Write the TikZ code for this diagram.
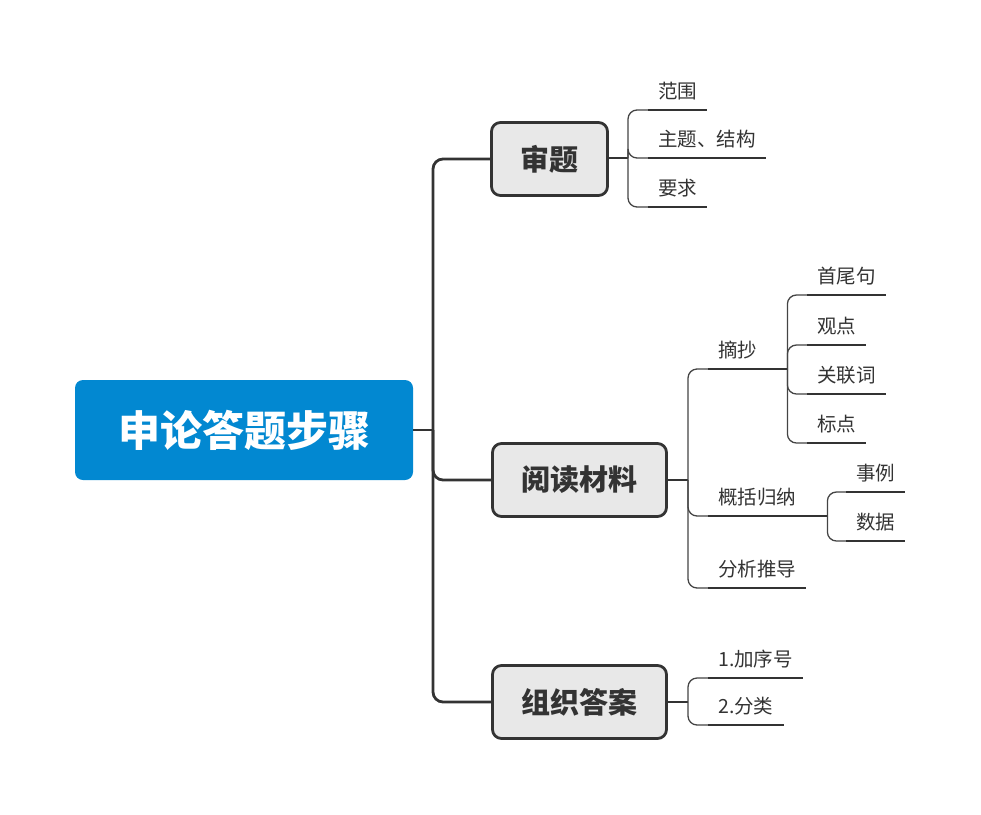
\documentclass[tikz,border=0pt]{standalone}
\usepackage{fontspec}
\newfontfamily\cjk{Noto Sans CJK SC}
\definecolor{rootblue}{HTML}{0288D1}
\definecolor{boxgray}{HTML}{E8E8E8}
\definecolor{ink}{HTML}{333333}
\definecolor{bracketgray}{HTML}{444444}
\tikzset{
  rootbox/.style={rectangle, rounded corners=8pt, fill=rootblue, text=white,
    minimum width=338pt, minimum height=100pt, inner sep=0pt,
    font=\cjk\bfseries\fontsize{42}{50}\selectfont},
  topicbox/.style={rectangle, rounded corners=9pt, draw=ink, line width=2.8pt,
    fill=boxgray, text=ink, minimum height=73pt, inner xsep=29pt,
    font=\cjk\bfseries\fontsize{29}{34}\selectfont},
  leaf/.style={anchor=south west, inner xsep=10pt, inner ysep=0pt,
    text height=16pt, text depth=11pt, text=ink,
    font=\cjk\fontsize{19.5}{24}\selectfont},
  leafw/.style={leaf, text width=#1, align=left},
  trunk/.style={draw=ink, line width=2.8pt, rounded corners=10pt},
  stub/.style={draw=ink, line width=1.6pt},
  bracket/.style={draw=bracketgray, line width=1.3pt, rounded corners=9pt},
  uline/.style={draw=ink, line width=2pt},
}
\begin{document}
\begin{tikzpicture}[x=1pt,y=-1pt]
\useasboundingbox (0,0) rectangle (981,814);

% root and main topics
\node[rootbox] (root) at (244,430) {申论答题步骤};
\node[topicbox] (shenti) at (549.5,159) {审题};
\node[topicbox] (yuedu) at (579.5,480) {阅读材料};
\node[topicbox] (zuzhi) at (579.5,702) {组织答案};

\coordinate (hub) at (433,430);
\draw[trunk] (root.east) -- (hub);
\draw[trunk] (hub) |- (shenti.west);
\draw[trunk] (hub) |- (yuedu.west);
\draw[trunk] (hub) |- (zuzhi.west);

% leaves of 审题
\node[leaf] (fanwei) at (648,110) {范围};
\node[leaf] (zhuti) at (648,158) {主题、结构};
\node[leaf] (yaoqiu) at (648,207) {要求};
\coordinate (sj) at (628,158);
\draw[stub] (shenti.east |- sj) -- (sj);
\foreach \c in {fanwei,zhuti,yaoqiu}
  \draw[bracket] (sj) |- (\c.south west);

% leaves of 阅读材料
\node[leafw=59pt] (zhaichao) at (708,369) {摘抄};
\node[leafw=99pt] (gaikuo) at (708,516) {概括归纳};
\node[leafw=78pt] (fenxi) at (708,588) {分析推导};
\coordinate (yj) at (688,480);
\draw[stub] (yuedu.east |- yj) -- (yj);
\foreach \c in {zhaichao,gaikuo,fenxi}
  \draw[bracket] (yj) |- (\c.south west);

% leaves of 摘抄
\node[leaf] (shouwei) at (807,295) {首尾句};
\node[leaf] (guandian) at (807,345) {观点};
\node[leaf] (guanlian) at (807,394) {关联词};
\node[leaf] (biaodian) at (807,443) {标点};
\foreach \c in {shouwei,guandian,guanlian,biaodian}
  \draw[bracket] (zhaichao.south east) |- (\c.south west);

% leaves of 概括归纳
\node[leaf] (shili) at (846,492) {事例};
\node[leaf] (shuju) at (846,541) {数据};
\foreach \c in {shili,shuju}
  \draw[bracket] (gaikuo.south east) |- (\c.south west);

% leaves of 组织答案
\node[leaf] (xuhao) at (708,678) {1.加序号};
\node[leaf] (fenlei) at (708,725) {2.分类};
\coordinate (zj) at (688,702);
\draw[stub] (zuzhi.east |- zj) -- (zj);
\foreach \c in {xuhao,fenlei}
  \draw[bracket] (zj) |- (\c.south west);

% underlines of all leaves
\foreach \c in {fanwei,zhuti,yaoqiu,zhaichao,gaikuo,fenxi,
                shouwei,guandian,guanlian,biaodian,shili,shuju,xuhao,fenlei}
  \draw[uline] (\c.south west) -- (\c.south east);
\end{tikzpicture}
\end{document}
